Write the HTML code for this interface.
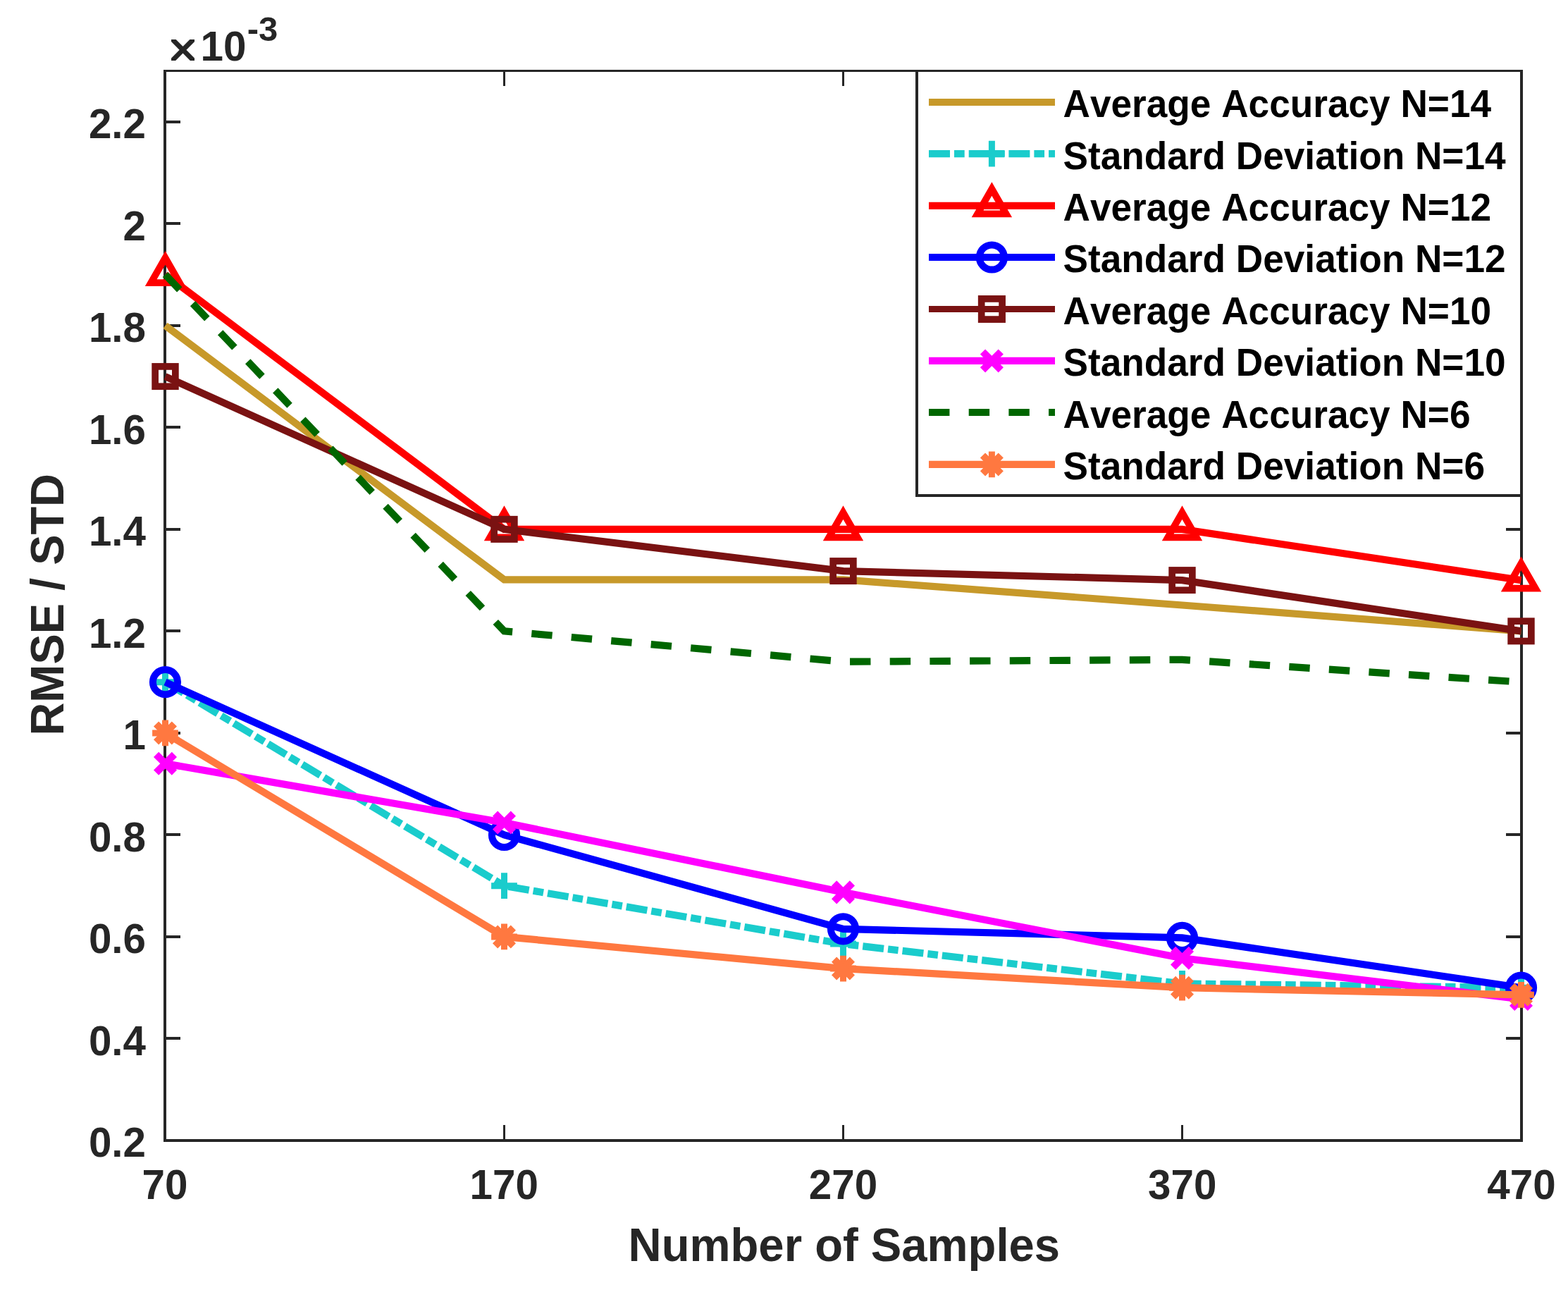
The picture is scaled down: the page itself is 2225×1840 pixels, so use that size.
<!DOCTYPE html>
<html lang="en"><head><meta charset="utf-8"><title>RMSE / STD vs Number of Samples</title>
<style>html,body{margin:0;padding:0;background:#fff}body{width:2225px;height:1840px;overflow:hidden}svg{display:block}</style>
</head><body>
<svg width="2225" height="1840" viewBox="0 0 2225 1840" font-family="'Liberation Sans', Arial, Helvetica, sans-serif" font-weight="bold" style="font-kerning:none">
<rect width="2225" height="1840" fill="#fff"/>
<path d="M714 1596h3v20h-3zM714 102h3v20h-3zM1195 1596h3v20h-3zM1195 102h3v20h-3zM1676 1596h3v20h-3zM1676 102h3v20h-3zM236 1471h20v4h-20zM2137 1471h20v4h-20zM236 1327h20v4h-20zM2137 1327h20v4h-20zM236 1182h20v4h-20zM2137 1182h20v4h-20zM236 1038h20v4h-20zM2137 1038h20v4h-20zM236 893h20v4h-20zM2137 893h20v4h-20zM236 749h20v4h-20zM2137 749h20v4h-20zM236 604h20v4h-20zM2137 604h20v4h-20zM236 460h20v4h-20zM2137 460h20v4h-20zM236 315h20v4h-20zM2137 315h20v4h-20zM236 171h20v4h-20zM2137 171h20v4h-20zM232 99h4v1521h-4zM2157 99h4v1521h-4zM232 99h1929v3h-1929zM232 1616h1929v4h-1929z" fill="#262626"/>
<g fill="#262626" font-size="58.33px">
<text x="234.00" y="1701" text-anchor="middle">70</text>
<text x="715.25" y="1701" text-anchor="middle">170</text>
<text x="1196.50" y="1701" text-anchor="middle">270</text>
<text x="1677.75" y="1701" text-anchor="middle">370</text>
<text x="2159.00" y="1701" text-anchor="middle">470</text>
<text x="207" y="1641.30" text-anchor="end">0.2</text>
<text x="207" y="1496.78" text-anchor="end">0.4</text>
<text x="207" y="1352.25" text-anchor="end">0.6</text>
<text x="207" y="1207.73" text-anchor="end">0.8</text>
<text x="207" y="1063.20" text-anchor="end">1</text>
<text x="207" y="918.68" text-anchor="end">1.2</text>
<text x="207" y="774.16" text-anchor="end">1.4</text>
<text x="207" y="629.63" text-anchor="end">1.6</text>
<text x="207" y="485.11" text-anchor="end">1.8</text>
<text x="207" y="340.59" text-anchor="end">2</text>
<text x="207" y="196.06" text-anchor="end">2.2</text>
</g>
<clipPath id="xc"><rect x="242.9" y="55.9" width="33.2" height="30.2"/></clipPath>
<text x="226" y="96" clip-path="url(#xc)" fill="#262626" stroke="#262626" stroke-width="0.2" font-family="'DejaVu Sans', sans-serif" font-weight="normal" font-size="80px">×</text>
<text x="284.6" y="86" fill="#262626" font-size="58.33px">10<tspan font-size="49px" dx="1.3" dy="-27.6">-3</tspan></text>
<text x="891.6" y="1788.7" textLength="612.5" lengthAdjust="spacingAndGlyphs" fill="#262626" font-size="66px">Number of Samples</text>
<text transform="translate(89.6 1043.6) rotate(-90)" textLength="371.6" lengthAdjust="spacingAndGlyphs" fill="#262626" font-size="66px">RMSE / STD</text>
<g><polyline points="234.50,461.81 715.50,822.40 1196.50,822.40 1677.50,858.53 2158.50,895.38" fill="none" stroke="#C7992A" stroke-width="10.2" stroke-linejoin="miter"/>
</g>
<g><polyline points="234.50,967.64 715.50,1256.69 1196.50,1339.07 1677.50,1395.43 2158.50,1401.21" fill="none" stroke="#1ACCCC" stroke-width="10.2" stroke-linejoin="miter" stroke-dasharray="30 6 14.69 6"/>
<path d="M216.10 967.64H252.90M234.50 949.24V986.04" stroke="#1ACCCC" stroke-width="9.0" fill="none"/>
<path d="M697.10 1256.69H733.90M715.50 1238.29V1275.09" stroke="#1ACCCC" stroke-width="9.0" fill="none"/>
<path d="M1178.10 1339.07H1214.90M1196.50 1320.67V1357.47" stroke="#1ACCCC" stroke-width="9.0" fill="none"/>
<path d="M1659.10 1395.43H1695.90M1677.50 1377.03V1413.83" stroke="#1ACCCC" stroke-width="9.0" fill="none"/>
<path d="M2140.10 1401.21H2176.90M2158.50 1382.81V1419.61" stroke="#1ACCCC" stroke-width="9.0" fill="none"/>
</g>
<g><polyline points="234.50,389.55 715.50,750.86 1196.50,750.86 1677.50,750.86 2158.50,823.12" fill="none" stroke="#FF0000" stroke-width="10.2" stroke-linejoin="miter"/>
<path d="M234.50 365.75L254.80 401.05L214.20 401.05Z" stroke="#FF0000" stroke-width="9.7" stroke-linejoin="miter" stroke-miterlimit="10" fill="none"/>
<path d="M715.50 727.06L735.80 762.36L695.20 762.36Z" stroke="#FF0000" stroke-width="9.7" stroke-linejoin="miter" stroke-miterlimit="10" fill="none"/>
<path d="M1196.50 727.06L1216.80 762.36L1176.20 762.36Z" stroke="#FF0000" stroke-width="9.7" stroke-linejoin="miter" stroke-miterlimit="10" fill="none"/>
<path d="M1677.50 727.06L1697.80 762.36L1657.20 762.36Z" stroke="#FF0000" stroke-width="9.7" stroke-linejoin="miter" stroke-miterlimit="10" fill="none"/>
<path d="M2158.50 799.32L2178.80 834.62L2138.20 834.62Z" stroke="#FF0000" stroke-width="9.7" stroke-linejoin="miter" stroke-miterlimit="10" fill="none"/>
</g>
<g><polyline points="234.50,967.64 715.50,1184.43 1196.50,1317.82 1677.50,1330.40 2158.50,1401.21" fill="none" stroke="#0000FF" stroke-width="10.2" stroke-linejoin="miter"/>
<circle cx="234.50" cy="967.64" r="17.6" stroke="#0000FF" stroke-width="10" fill="none"/>
<circle cx="715.50" cy="1184.43" r="17.6" stroke="#0000FF" stroke-width="10" fill="none"/>
<circle cx="1196.50" cy="1317.82" r="17.6" stroke="#0000FF" stroke-width="10" fill="none"/>
<circle cx="1677.50" cy="1330.40" r="17.6" stroke="#0000FF" stroke-width="10" fill="none"/>
<circle cx="2158.50" cy="1401.21" r="17.6" stroke="#0000FF" stroke-width="10" fill="none"/>
</g>
<g><polyline points="234.50,534.07 715.50,750.86 1196.50,810.11 1677.50,823.12 2158.50,895.38" fill="none" stroke="#7A1212" stroke-width="10.2" stroke-linejoin="miter"/>
<rect x="220.15" y="519.92" width="28.70" height="28.30" stroke="#7A1212" stroke-width="9.7" fill="none"/>
<rect x="701.15" y="736.71" width="28.70" height="28.30" stroke="#7A1212" stroke-width="9.7" fill="none"/>
<rect x="1182.15" y="795.96" width="28.70" height="28.30" stroke="#7A1212" stroke-width="9.7" fill="none"/>
<rect x="1663.15" y="808.97" width="28.70" height="28.30" stroke="#7A1212" stroke-width="9.7" fill="none"/>
<rect x="2144.15" y="881.23" width="28.70" height="28.30" stroke="#7A1212" stroke-width="9.7" fill="none"/>
</g>
<g><polyline points="234.50,1083.26 715.50,1167.09 1196.50,1265.87 1677.50,1359.30 2158.50,1417.47" fill="none" stroke="#FF00FF" stroke-width="10.2" stroke-linejoin="miter"/>
<path d="M221.60 1070.36L247.40 1096.16M221.60 1096.16L247.40 1070.36" stroke="#FF00FF" stroke-width="10.2" fill="none"/>
<path d="M702.60 1154.19L728.40 1179.99M702.60 1179.99L728.40 1154.19" stroke="#FF00FF" stroke-width="10.2" fill="none"/>
<path d="M1183.60 1252.97L1209.40 1278.77M1183.60 1278.77L1209.40 1252.97" stroke="#FF00FF" stroke-width="10.2" fill="none"/>
<path d="M1664.60 1346.40L1690.40 1372.20M1664.60 1372.20L1690.40 1346.40" stroke="#FF00FF" stroke-width="10.2" fill="none"/>
<path d="M2145.60 1404.57L2171.40 1430.37M2145.60 1430.37L2171.40 1404.57" stroke="#FF00FF" stroke-width="10.2" fill="none"/>
</g>
<g><polyline points="234.50,389.55 715.50,895.38 1196.50,938.74 1677.50,935.85 2158.50,967.64" fill="none" stroke="#006600" stroke-width="10.2" stroke-linejoin="miter" stroke-dasharray="29.42 27.27"/>
</g>
<g><polyline points="234.50,1039.90 715.50,1328.95 1196.50,1374.04 1677.50,1401.21 2158.50,1411.33" fill="none" stroke="#FF7840" stroke-width="10.2" stroke-linejoin="miter"/>
<path d="M216.10 1039.90H252.90M234.50 1021.50V1058.30" stroke="#FF7840" stroke-width="9.0" fill="none"/><path d="M221.60 1027.00L247.40 1052.80M221.60 1052.80L247.40 1027.00" stroke="#FF7840" stroke-width="10.2" fill="none"/>
<path d="M697.10 1328.95H733.90M715.50 1310.55V1347.35" stroke="#FF7840" stroke-width="9.0" fill="none"/><path d="M702.60 1316.05L728.40 1341.85M702.60 1341.85L728.40 1316.05" stroke="#FF7840" stroke-width="10.2" fill="none"/>
<path d="M1178.10 1374.04H1214.90M1196.50 1355.64V1392.44" stroke="#FF7840" stroke-width="9.0" fill="none"/><path d="M1183.60 1361.14L1209.40 1386.94M1183.60 1386.94L1209.40 1361.14" stroke="#FF7840" stroke-width="10.2" fill="none"/>
<path d="M1659.10 1401.21H1695.90M1677.50 1382.81V1419.61" stroke="#FF7840" stroke-width="9.0" fill="none"/><path d="M1664.60 1388.31L1690.40 1414.11M1664.60 1414.11L1690.40 1388.31" stroke="#FF7840" stroke-width="10.2" fill="none"/>
<path d="M2140.10 1411.33H2176.90M2158.50 1392.93V1429.73" stroke="#FF7840" stroke-width="9.0" fill="none"/><path d="M2145.60 1398.43L2171.40 1424.23M2145.60 1424.23L2171.40 1398.43" stroke="#FF7840" stroke-width="10.2" fill="none"/>
</g>
<rect x="1303" y="102" width="854" height="599" fill="#fff"/>
<path d="M1299 99h862v3h-862zM1299 99h4v606h-4zM2157 99h4v606h-4zM1299 701h862v4h-862z" fill="#262626"/>
<path d="M1318 145H1497" stroke="#C7992A" stroke-width="10.2" fill="none"/>
<text transform="translate(1508.5 165.7) scale(1 1.05)" fill="#000" font-size="53.2px">Average Accuracy N=14</text>
<path d="M1318 218.1H1497" stroke="#1ACCCC" stroke-width="10.2" fill="none" stroke-dasharray="30 6 14.69 6"/>
<path d="M1389.00 218.10H1425.80M1407.40 199.70V236.50" stroke="#1ACCCC" stroke-width="9.0" fill="none"/>
<text transform="translate(1508.5 239.8) scale(1 1.05)" fill="#000" font-size="53.2px">Standard Deviation N=14</text>
<path d="M1318 291.8H1497" stroke="#FF0000" stroke-width="10.2" fill="none"/>
<path d="M1407.40 268.00L1427.70 303.30L1387.10 303.30Z" stroke="#FF0000" stroke-width="9.7" stroke-linejoin="miter" stroke-miterlimit="10" fill="none"/>
<text transform="translate(1508.5 312.8) scale(1 1.05)" fill="#000" font-size="53.2px">Average Accuracy N=12</text>
<path d="M1318 365H1497" stroke="#0000FF" stroke-width="10.2" fill="none"/>
<circle cx="1407.40" cy="365.00" r="17.6" stroke="#0000FF" stroke-width="10" fill="none"/>
<text transform="translate(1508.5 385.8) scale(1 1.05)" fill="#000" font-size="53.2px">Standard Deviation N=12</text>
<path d="M1318 438.5H1497" stroke="#7A1212" stroke-width="9.0" fill="none"/>
<rect x="1392.70" y="423.90" width="29.40" height="29.20" stroke="#7A1212" stroke-width="9.7" fill="none"/>
<text transform="translate(1508.5 459.8) scale(1 1.05)" fill="#000" font-size="53.2px">Average Accuracy N=10</text>
<path d="M1318 511.9H1497" stroke="#FF00FF" stroke-width="10.2" fill="none"/>
<path d="M1394.50 499.00L1420.30 524.80M1394.50 524.80L1420.30 499.00" stroke="#FF00FF" stroke-width="10.2" fill="none"/>
<text transform="translate(1508.5 532.8) scale(1 1.05)" fill="#000" font-size="53.2px">Standard Deviation N=10</text>
<path d="M1318 585H1497" stroke="#006600" stroke-width="10.2" fill="none" stroke-dasharray="29.42 27.27"/>
<text transform="translate(1508.5 607) scale(1 1.05)" fill="#000" font-size="53.2px">Average Accuracy N=6</text>
<path d="M1318 658.9H1497" stroke="#FF7840" stroke-width="10.2" fill="none"/>
<path d="M1389.00 658.90H1425.80M1407.40 640.50V677.30" stroke="#FF7840" stroke-width="9.0" fill="none"/><path d="M1394.50 646.00L1420.30 671.80M1394.50 671.80L1420.30 646.00" stroke="#FF7840" stroke-width="10.2" fill="none"/>
<text transform="translate(1508.5 679.8) scale(1 1.05)" fill="#000" font-size="53.2px">Standard Deviation N=6</text>
</svg>
</body></html>
